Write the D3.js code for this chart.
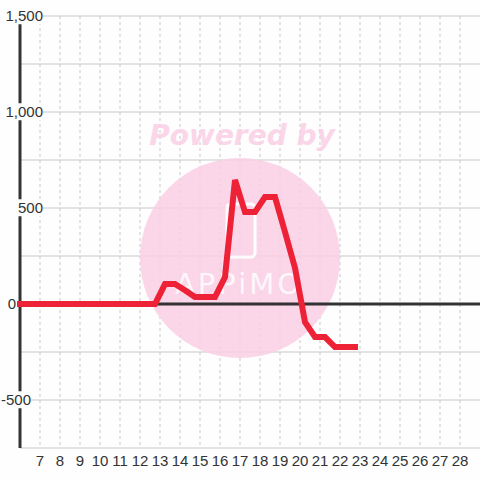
<!DOCTYPE html>
<html>
<head>
<meta charset="utf-8">
<script src="https://cdn.jsdelivr.net/npm/d3@7"></script>
<style>
  body { margin: 0; background: #fdfefd; }
  svg { display: block; font-family: "Liberation Sans", Arial, sans-serif; }
</style>
</head>
<body>
<div id="chart"></div>
<script>
// Data: half-hour readings
const hours = [5.75, 6.25, 6.75, 7.25, 7.75, 8.25, 8.75, 9.25, 9.75, 10.25, 10.75, 11.25, 11.75, 12.25, 12.75,
  13.25, 13.75, 14.25, 14.75, 15.25, 15.75, 16.25, 16.75, 17.25, 17.75, 18.25, 18.75, 19.25, 19.75,
  20.25, 20.75, 21.25, 21.75, 22.25, 22.9];
const values = [0, 0, 0, 0, 0, 0, 0, 0, 0, 0, 0, 0, 0, 0, 0,
  104, 104, 72, 36, 36, 36, 140, 646, 479, 479, 557, 557, 375, 188,
  -94, -172, -172, -224, -224, -224];
const xTicks = d3.range(7, 29);
const yTicks = [1500, 1000, 500, 0, -500];
const yLabels = ["1,500", "1,000", "500", "0", "-500"];
const yGrid = d3.range(-750, 1501, 250);

const width = 480, height = 480;
const plot = { left: 20, right: 480, top: 16, bottom: 448 };

const x = d3.scaleLinear().domain([6, 29]).range([plot.left, plot.right]);
const y = d3.scaleLinear().domain([-750, 1500]).range([plot.bottom, plot.top]);

const svg = d3.select("#chart").append("svg")
  .attr("width", width)
  .attr("height", height);

svg.append("defs").append("clipPath").attr("id", "clip")
  .append("rect")
  .attr("x", 17).attr("y", 0)
  .attr("width", width).attr("height", height);

// horizontal grid
svg.append("g")
  .selectAll("line")
  .data(yGrid)
  .enter().append("line")
  .attr("x1", plot.left).attr("x2", plot.right)
  .attr("y1", d => y(d)).attr("y2", d => y(d))
  .attr("stroke", "#c8c8c8")
  .attr("stroke-width", 1);

// vertical dashed grid
svg.append("g")
  .selectAll("line")
  .data(xTicks)
  .enter().append("line")
  .attr("x1", d => x(d)).attr("x2", d => x(d))
  .attr("y1", plot.top).attr("y2", plot.bottom)
  .attr("stroke", "#c8c8c8")
  .attr("stroke-width", 1)
  .attr("stroke-dasharray", "3,3");

// watermark
const wm = svg.append("g").attr("opacity", 0.85);
wm.append("circle")
  .attr("cx", 240).attr("cy", 258).attr("r", 100)
  .attr("fill", "#fbd0e6");
wm.append("text")
  .attr("x", 242).attr("y", 145)
  .attr("text-anchor", "middle")
  .style("font-family", "DejaVu Sans")
  .style("font-weight", "bold")
  .style("font-style", "italic")
  .style("font-size", "28px")
  .attr("fill", "#fbd0e6")
  .text("Powered by");
wm.append("rect")
  .attr("x", 227).attr("y", 204).attr("width", 28).attr("height", 53)
  .attr("rx", 4)
  .attr("fill", "none")
  .attr("stroke", "#fff")
  .attr("stroke-width", 3);
wm.append("text")
  .attr("x", 239).attr("y", 294)
  .attr("text-anchor", "middle")
  .style("font-family", "DejaVu Sans")
  .style("font-size", "29px")
  .style("letter-spacing", "3px")
  .attr("fill", "#fff")
  .attr("opacity", 0.8)
  .text("APPiMO");

// y axis line
svg.append("line")
  .attr("x1", plot.left).attr("x2", plot.left)
  .attr("y1", plot.top).attr("y2", plot.bottom)
  .attr("stroke", "#333")
  .attr("stroke-width", 3);

// zero line
svg.append("line")
  .attr("x1", plot.left).attr("x2", plot.right)
  .attr("y1", y(0)).attr("y2", y(0))
  .attr("stroke", "#333")
  .attr("stroke-width", 3);

// y labels with background; positive labels end near 43, others sit left of the axis
const labelX = t => t > 0 ? { x: 43, anchor: "end" } : (t === 0 ? { x: 16, anchor: "end" } : { x: 31, anchor: "end" });
const yl = svg.append("g");
yTicks.forEach((t, i) => {
  const g = yl.append("g");
  const pos = labelX(t);
  const txt = g.append("text")
    .attr("x", pos.x).attr("y", y(t))
    .attr("dy", "0.35em")
    .attr("text-anchor", pos.anchor)
    .style("font-size", "15px")
    .attr("fill", "#333")
    .text(yLabels[i]);
  const bb = txt.node().getBBox();
  g.insert("rect", "text")
    .attr("x", bb.x).attr("y", bb.y)
    .attr("width", bb.width).attr("height", bb.height)
    .attr("fill", "#fdfefd");
});

// x labels
svg.append("g")
  .selectAll("text")
  .data(xTicks)
  .enter().append("text")
  .attr("x", d => x(d))
  .attr("y", 466)
  .attr("text-anchor", "middle")
  .style("font-size", "15px")
  .attr("fill", "#333")
  .text(d => d);

// series line
const line = d3.line()
  .x((d, i) => x(hours[i]))
  .y(d => y(d));

svg.append("path")
  .datum(values)
  .attr("clip-path", "url(#clip)")
  .attr("d", line)
  .attr("fill", "none")
  .attr("stroke", "#ee2236")
  .attr("stroke-width", 6)
  .attr("stroke-linejoin", "miter");
</script>
</body>
</html>
